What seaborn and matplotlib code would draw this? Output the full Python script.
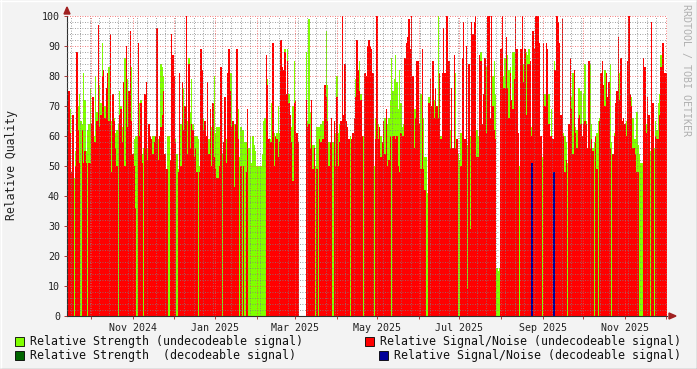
import numpy as np
import pandas as pd
import matplotlib
matplotlib.use("Agg")
import matplotlib.pyplot as plt
import matplotlib.dates as mdates
from matplotlib.ticker import MultipleLocator, FuncFormatter
from matplotlib.patches import Rectangle, Polygon
from matplotlib.lines import Line2D
import seaborn as sns

# ---------------- data ----------------
start_date = "2024-09-13"
end_date = "2025-12-01"
G = None  # missing sample (gap)

# Relative Strength (undecodeable signal) - daily
strength = [
    73, 69, 69, 0, 60, 46, 55, 70, 70, 74, 65, 64, 81, 72, 55, 62, 64, 76, 54, 57, 60, 80, 68, 63, 77, 71, 91, 77, 70, 62, 65, 83, 80, 65, 65, 66,
    61, 62, 64, 75, 70, 63, 63, 86, 80, 79, 60, 83, 83, 54, 59, 60, 60, 71, 71, 72, 54, 56, 58, 58, 56, 60, 54, 0, 60, 60, 59, 59, 59, 58, 84, 83, 80, 53, 49,
    60, 60, 52, 84, 84, 58, 59, 54, 49, 57, 64, 76, 76, 64, 69, 65, 86, 68, 79, 64, 60, 60, 60, 59, 50, 62, 65, 66, 65, 59, 58, 59, 62, 63, 64, 80, 61, 63, 63,
    63, 54, 54, 54, 58, 59, 58, 79, 81, 81, 64, 64, 62, 69, 69, 53, 63, 62, 62, 58, 58, 59, 56, 60, 51, 60, 57, 55, 50, 50, 50, 50, 54, 65, 66, 79, 79, 59, 59,
    71, 79, 61, 60, 61, 70, 61, 60, 83, 82, 89, 74, 89, 74, 63, 63, 70, 85, 65, 58, 0, G, G, G, G, G, 88, 65, 99, 68, 71, 57, 57, 50, 63, 63, 63, 64, 65,
    65, 76, 95, 77, 58, 58, 56, 58, 61, 61, 80, 61, 64, 64, 64, 62, 53, 55, 54, 59, 60, 59, 61, 65, 79, 69, 64, 85, 74, 60, 60, 60, 59, 70, 85, 55, 60, 60, 50,
    66, 64, 64, 60, 60, 58, 58, 66, 64, 64, 66, 72, 86, 75, 79, 87, 78, 69, 82, 71, 63, 64, 62, 62, 75, 79, 89, 80, 69, 69, 69, 85, 71, 64, 74, 66, 66, 53, 53,
    41, 73, 71, 54, 82, 72, 69, 60, 100, 62, 60, 58, 58, 58, 58, 58, 58, 62, 61, 56, 84, 81, 54, 54, 52, 61, 61, 58, 58, 58, 57, 65, 60, 69, 58, 58, 65, 62, 60,
    60, 88, 64, 74, 74, 83, 69, 69, 65, 85, 80, 85, 74, 16, 15, 16, 0, 80, 80, 86, 86, 87, 82, 83, 72, 88, 88, 88, 69, 54, 50, 65, 69, 84, 72, 88, 87, 89, 60,
    63, 66, 79, 79, 80, 58, 58, 53, 53, 79, 74, 74, 64, 74, 60, 69, 58, 85, 82, 82, 62, 61, 61, 61, 61, 60, 58, 51, 54, 69, 73, 81, 81, 63, 62, 76, 76, 75, 50,
    74, 84, 65, 47, 62, 84, 64, 56, 58, 57, 61, 65, 66, 62, 58, 77, 82, 72, 56, 72, 84, 58, 50, 61, 65, 63, 63, 81, 66, 56, 62, 64, 65, 66, 76, 74, 73, 66, 59,
    59, 68, 57, 54, 51, 51, 56, 64, 64, 56, 54, 55, 88, 56, 56, 65, 62, 71, 74, 87, 87, 81, 74, 81,
]

# Relative Signal/Noise (undecodeable signal) - daily
snr = [
    78, 75, 61, 48, 67, 0, 50, 88, 62, 51, 0, 62, 51, 55, 51, 0, 51, 51, 64, 73, 58, 58, 65, 97, 63, 67, 80, 82, 66, 76, 81, 65, 94, 48, 74, 65,
    56, 50, 0, 67, 69, 58, 78, 50, 90, 63, 75, 95, 65, 54, 50, 36, 0, 91, 60, 71, 51, 0, 74, 78, 52, 64, 60, 59, 54, 58, 60, 96, 52, 60, 63, 67, 75, 54, 49,
    49, 0, 52, 94, 87, 80, 58, 0, 48, 81, 50, 78, 62, 70, 100, 54, 84, 56, 64, 62, 53, 56, 48, 0, 48, 89, 82, 62, 65, 60, 78, 54, 69, 50, 71, 53, 49, 46, 46,
    50, 83, 0, 58, 73, 51, 81, 89, 75, 63, 65, 43, 64, 89, 59, 0, 50, 0, 50, 0, 48, 69, 0, 0, 0, 0, 0, 0, 0, 0, 0, 0, 0, 0, 0, 87, 77, 59, 58,
    58, 91, 50, 60, 59, 53, 58, 92, 83, 82, 88, 74, 85, 71, 67, 58, 45, 71, 72, 61, 58, G, G, G, G, G, 72, 63, 64, 56, 72, 49, 56, 0, 49, 0, 59, 58, 59,
    59, 77, 73, 65, 50, 58, 66, 0, 65, 50, 73, 50, 58, 65, 100, 67, 84, 65, 63, 59, 0, 59, 61, 66, 73, 92, 82, 75, 72, 60, 0, 81, 80, 90, 92, 90, 89, 81, 0,
    59, 100, 59, 63, 53, 58, 65, 54, 69, 50, 52, 60, 0, 60, 60, 59, 60, 50, 48, 61, 60, 60, 86, 91, 93, 99, 89, 100, 80, 56, 66, 85, 85, 64, 49, 89, 49, 42, 0,
    0, 71, 79, 70, 85, 66, 76, 70, 66, 81, 59, 81, 96, 81, 100, 100, 85, 56, 76, 56, 87, 56, 59, 0, 0, 50, 86, 98, 59, 90, 9, 84, 29, 98, 94, 98, 100, 53, 53,
    87, 85, 64, 74, 86, 61, 100, 100, 66, 100, 70, 62, 59, 0, 0, 0, 89, 100, 76, 76, 93, 76, 66, 81, 72, 69, 79, 100, 89, 61, 0, 89, 100, 78, 89, 67, 84, 84, 85,
    60, 95, 89, 100, 100, 100, 91, 60, 0, 91, 70, 91, 89, 64, 60, 60, 59, 82, 82, 100, 98, 91, 67, 99, 60, 48, 52, 0, 64, 86, 69, 54, 82, 61, 56, 66, 67, 64, 60,
    64, 65, 64, 56, 85, 56, 59, 55, 0, 60, 49, 0, 65, 81, 85, 77, 70, 81, 73, 78, 56, 0, 54, 60, 71, 75, 93, 72, 86, 65, 66, 64, 60, 85, 100, 74, 70, 56, 56,
    54, 48, 48, 0, 0, 0, 86, 83, 61, 73, 67, 0, 98, 71, 0, 60, 59, 59, 67, 83, 91, 91, 81, 81,
]

# decodeable signal samples (sample index -> value)
snr_decoded_index = [348, 365]
snr_decoded_value = [51, 48]
strength_decoded_index = []
strength_decoded_value = []

tick_dates = ["2024-11-01", "2025-01-01", "2025-03-01", "2025-05-01",
              "2025-07-01", "2025-09-01", "2025-11-01"]
tick_labels = ["Nov 2024", "Jan 2025", "Mar 2025", "May 2025",
               "Jul 2025", "Sep 2025", "Nov 2025"]

legend_labels = [
    "Relative Strength (undecodeable signal)",
    "Relative Signal/Noise (undecodeable signal)",
    "Relative Strength  (decodeable signal)",
    "Relative Signal/Noise (decodeable signal)",
]
colors = ["#80ff00", "#ff0000", "#006600", "#000099"]

# ---------------- build frame ----------------
n = len(strength)
t0 = pd.Timestamp(start_date) + pd.Timedelta(hours=12)
t1 = pd.Timestamp(end_date) + pd.Timedelta(hours=12)
dates = pd.date_range(t0, t1, periods=n)
xnum = mdates.date2num(dates.to_pydatetime())

strength_dec = np.zeros(n)
strength_dec[strength_decoded_index] = strength_decoded_value
snr_dec = np.zeros(n)
snr_dec[snr_decoded_index] = snr_decoded_value

df = pd.DataFrame({
    "x": xnum,
    "strength": pd.array(strength, dtype="float"),
    "snr": pd.array(snr, dtype="float"),
    "strength_dec": strength_dec,
    "snr_dec": snr_dec,
})

# ---------------- figure ----------------
sns.set_theme(style="white")
plt.rcParams["font.family"] = ["DejaVu Sans Mono", "DejaVu Sans"]

W, H = 697, 369
fig = plt.figure(figsize=(W / 100, H / 100), dpi=100, facecolor="#f3f3f3")
ax = fig.add_axes([67 / W, 1 - 316 / H, 600 / W, 300 / H])
ax.set_facecolor("white")

series = ["strength", "snr", "strength_dec", "snr_dec"]
for k, (col, c) in enumerate(zip(series, colors)):
    sub = df[["x", col]].dropna()
    decoded = k >= 2
    sns.barplot(data=sub, x="x", y=col, native_scale=True, color=c,
                saturation=1, width=1.6 if decoded else 1.1, linewidth=0,
                errorbar=None, antialiased=decoded, ax=ax, zorder=2 if decoded else 1)

ax.set_xlim(mdates.date2num(pd.Timestamp(start_date)),
            mdates.date2num(pd.Timestamp(end_date) + pd.Timedelta(days=1)))
ax.set_ylim(0, 100)
ax.set_xlabel("")
ax.set_ylabel("")

# ticks & grid
ax.yaxis.set_major_locator(MultipleLocator(10))
ax.yaxis.set_minor_locator(MultipleLocator(2))
ax.xaxis.set_major_locator(mdates.MonthLocator())
ax.xaxis.set_minor_locator(mdates.WeekdayLocator(byweekday=mdates.MO))
tick_nums = [round(mdates.date2num(pd.Timestamp(d))) for d in tick_dates]
lab_map = dict(zip(tick_nums, tick_labels))
ax.xaxis.set_major_formatter(FuncFormatter(lambda v, p: lab_map.get(round(v), "")))

ax.set_axisbelow(False)
ax.grid(which="minor", color=(0.5, 0.5, 0.5, 0.22), linestyle=(0, (1, 2)), linewidth=0.6)
ax.grid(which="major", color=(0.95, 0.3, 0.3, 0.35), linestyle=(0, (1, 2)), linewidth=0.6)

ax.tick_params(axis="both", which="major", labelsize=7.2, length=2, width=0.6,
               color="#a02020", pad=3, labelcolor="#222222", direction="out",
               bottom=True, left=True)
ax.tick_params(axis="both", which="minor", length=0)

for s in ["top", "right"]:
    ax.spines[s].set_visible(False)
for s in ["left", "bottom"]:
    ax.spines[s].set_color("#303030")
    ax.spines[s].set_linewidth(0.8)


def px(x, y):
    return (x / W, 1 - y / H)


# axis arrows
arrow_c = "#a02020"
fig.patches.append(Polygon([px(64, 14), px(70, 14), px(67, 7)], closed=True,
                           transform=fig.transFigure, color=arrow_c, zorder=10))
fig.patches.append(Polygon([px(669, 313), px(669, 319), px(676, 316)], closed=True,
                           transform=fig.transFigure, color=arrow_c, zorder=10))

# y label & watermark
fig.text(*px(12, 165), "Relative Quality", rotation=90, ha="center", va="center",
         fontsize=8.3, color="#222222")
fig.text(*px(686, 4), "RRDTOOL / TOBI OETIKER", rotation=270, ha="center", va="top",
         fontsize=7.2, color="#b0b0b0")

# legend (rrdtool-style justified rows)
char_w = 7.0
left_x, right_end = 30, 681
rows = [341, 355]
for r, ly in enumerate(rows):
    li, ri = 2 * r, 2 * r + 1
    fig.patches.append(Rectangle(px(left_x - 15, ly + 4.5), 9 / W, 9 / H, transform=fig.transFigure,
                                 facecolor=colors[li], edgecolor="black", linewidth=0.6))
    fig.text(*px(left_x, ly), legend_labels[li], ha="left", va="center",
             fontsize=8.35, color="#111111")
    tx = right_end - char_w * len(legend_labels[ri])
    fig.patches.append(Rectangle(px(tx - 15, ly + 4.5), 9 / W, 9 / H, transform=fig.transFigure,
                                 facecolor=colors[ri], edgecolor="black", linewidth=0.6))
    fig.text(*px(right_end, ly), legend_labels[ri], ha="right", va="center",
             fontsize=8.35, color="#111111")

# frame
fig.lines.append(Line2D([0, 1], [1 - 0.5 / H, 1 - 0.5 / H], transform=fig.transFigure, color="white", lw=1))
fig.lines.append(Line2D([0.5 / W, 0.5 / W], [0, 1], transform=fig.transFigure, color="white", lw=1))
fig.lines.append(Line2D([0, 1], [0.5 / H, 0.5 / H], transform=fig.transFigure, color="#999999", lw=1))
fig.lines.append(Line2D([1 - 0.5 / W, 1 - 0.5 / W], [0, 1], transform=fig.transFigure, color="#999999", lw=1))

fig.savefig("out.png", dpi=100, facecolor=fig.get_facecolor())
